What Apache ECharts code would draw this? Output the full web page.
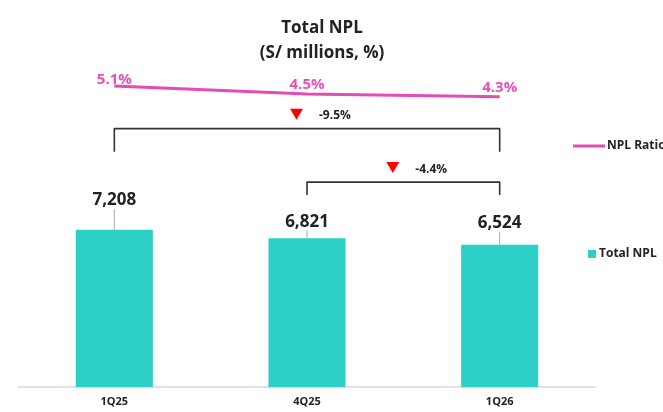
<!DOCTYPE html>
<html>
<head>
<meta charset="utf-8">
<script src="https://cdn.jsdelivr.net/npm/echarts@6/dist/echarts.min.js"></script>
<style>
  html, body { margin: 0; padding: 0; background: #fff; }
  #chart { width: 663px; height: 412px; }
</style>
</head>
<body>
<div id="chart"></div>
<script>
const quarters = ['1Q25', '4Q25', '1Q26'];
const totalNpl = [7208, 6821, 6524];
const nplRatio = [5.1, 4.5, 4.3];
const changeFrom = [0, 1];
const changeTo = [2, 2];
const changeText = ['-9.5%', '-4.4%'];

const FONT = '"Open Sans", sans-serif';
const DARK = '#222';
const PINK = '#e64bb4';
const TEAL = '#2dd0c6';

// bracket level (bar axis value) and how far the legs drop, per bracket
const bracketLevel = [11850, 9400];
const bracketDrop = [23, 13];
const labelShift = [-16, -3, -8];
const ratioLabelShift = [3, 0, 0];

const chart = echarts.init(document.getElementById('chart'));

chart.setOption({
  animation: false,
  textStyle: { fontFamily: FONT },
  title: {
    text: 'Total NPL\n(S/ millions, %)',
    left: 317,
    top: 11,
    textAlign: 'center',
    textStyle: { fontSize: 17, fontWeight: 'bold', color: DARK, lineHeight: 25, fontFamily: FONT }
  },
  legend: [
    {
      data: ['NPL Ratio'],
      left: 568,
      top: 135,
      icon: 'rect',
      itemWidth: 32,
      itemHeight: 3,
      itemGap: 0,
      textStyle: { fontSize: 12, fontWeight: 'bold', color: DARK, padding: [0, 0, 0, -3] }
    },
    {
      data: ['Total NPL'],
      left: 583,
      top: 243,
      icon: 'rect',
      itemWidth: 8,
      itemHeight: 8,
      textStyle: { fontSize: 12, fontWeight: 'bold', color: DARK, padding: [0, 0, 0, -2] }
    }
  ],
  grid: { left: 18, right: 67, top: 60, bottom: 25 },
  xAxis: {
    type: 'category',
    data: quarters,
    axisLine: { lineStyle: { color: '#d9d9d9', width: 1.5 } },
    axisTick: { show: false },
    axisLabel: { fontSize: 11, fontWeight: 'bold', color: DARK, margin: 9 }
  },
  yAxis: [
    { type: 'value', min: 0, max: 15000, show: false },
    { type: 'value', min: -17, max: 7, show: false }
  ],
  series: [
    {
      name: 'Total NPL',
      type: 'bar',
      data: totalNpl,
      barWidth: '40%',
      itemStyle: { color: TEAL },
      label: {
        show: true,
        position: 'top',
        distance: 5,
        fontSize: 17,
        fontWeight: 'bold',
        color: DARK,
        formatter: p => p.value.toLocaleString('en-US')
      },
      labelLayout: p => ({ dy: labelShift[p.dataIndex] }),
      labelLine: { show: true, lineStyle: { color: '#aaa', width: 1 } }
    },
    {
      name: 'NPL Ratio',
      type: 'line',
      yAxisIndex: 1,
      data: nplRatio,
      symbol: 'circle',
      symbolSize: 0,
      lineStyle: { color: PINK, width: 3 },
      itemStyle: { color: PINK },
      label: {
        show: true,
        position: 'top',
        distance: 2,
        fontSize: 15,
        fontWeight: 'bold',
        color: '#e850b8',
        formatter: p => p.value.toFixed(1) + '%'
      },
      labelLayout: p => ({ dy: ratioLabelShift[p.dataIndex] })
    },
    {
      type: 'custom',
      silent: true,
      z: 5,
      data: changeFrom.map((f, i) => [f, changeTo[i], 0]),
      encode: { x: [0, 1], y: 2 },
      renderItem: (params, api) => {
        const i = params.dataIndex;
        const a = api.coord([api.value(0), bracketLevel[i]]);
        const b = api.coord([api.value(1), bracketLevel[i]]);
        const y = a[1];
        const mid = (a[0] + b[0]) / 2;
        const drop = bracketDrop[i];
        return {
          type: 'group',
          children: [
            {
              type: 'polyline',
              shape: { points: [[a[0], y + drop], [a[0], y], [b[0], y], [b[0], y + drop]] },
              style: { stroke: '#333', lineWidth: 1.6, fill: null, lineJoin: 'round' }
            },
            {
              type: 'polygon',
              shape: { points: [[mid - 17, y - 20], [mid - 4, y - 20], [mid - 10.5, y - 9]] },
              style: { fill: '#f00' }
            },
            {
              type: 'text',
              style: {
                x: mid + 12,
                y: y - 13,
                text: changeText[i],
                fontSize: 12,
                fontWeight: 'bold',
                fontFamily: FONT,
                fill: DARK,
                verticalAlign: 'middle'
              }
            }
          ]
        };
      }
    }
  ]
});
</script>
</body>
</html>
